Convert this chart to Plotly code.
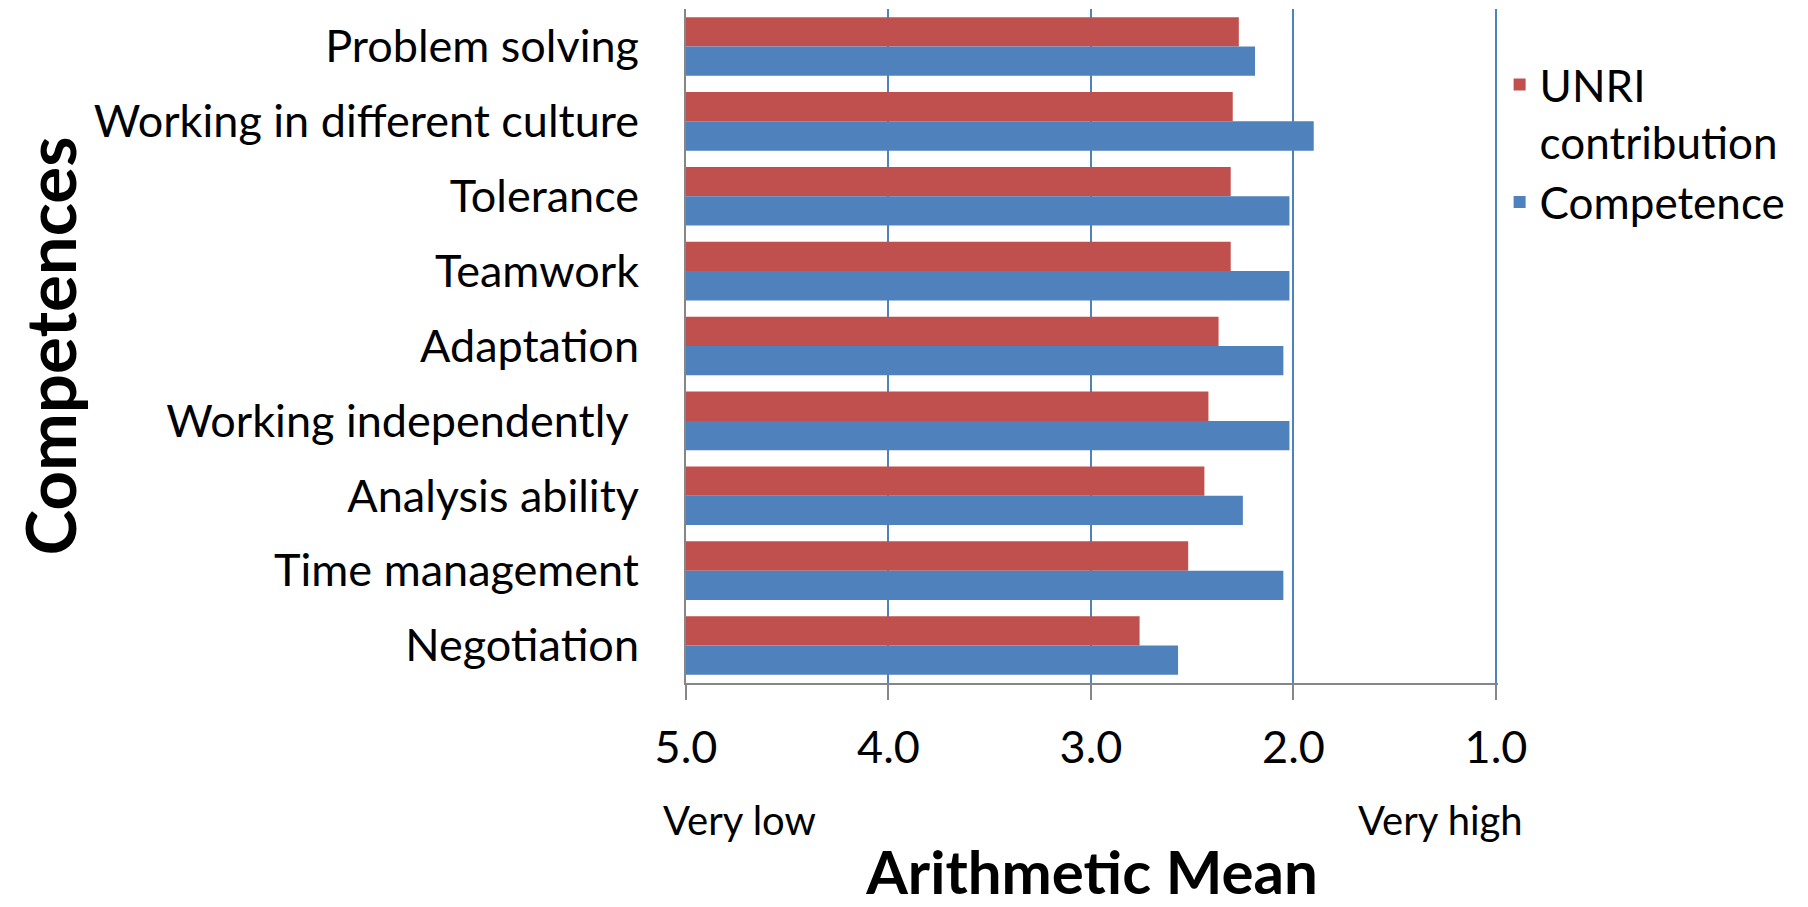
import plotly.graph_objects as go

# competences, top to bottom as in the chart
competences = [
    "Problem solving",
    "Working in different culture",
    "Tolerance",
    "Teamwork",
    "Adaptation",
    "Working independently\u00a0",
    "Analysis ability",
    "Time management",
    "Negotiation",
]
unri_contribution = [2.27, 2.30, 2.31, 2.31, 2.37, 2.42, 2.44, 2.52, 2.76]
competence = [2.19, 1.90, 2.02, 2.02, 2.05, 2.02, 2.25, 2.05, 2.57]

tick_values = [5, 4, 3, 2, 1]
tick_labels = ["5.0", "4.0", "3.0", "2.0", "1.0"]

# bars grow from the "Very low" end (5.0) towards the mean
scale_start = 5

RED = "#C0504D"
BLUE = "#4F81BD"
GREY = "#868686"
FONT = "Lato"

fig = go.Figure()
fig.add_trace(go.Bar(
    y=competences,
    x=[v - scale_start for v in unri_contribution],
    base=scale_start,
    orientation="h",
    name="UNRI<br>contribution",
    marker=dict(color=RED, line=dict(width=0)),
))
fig.add_trace(go.Bar(
    y=competences,
    x=[v - scale_start for v in competence],
    base=scale_start,
    orientation="h",
    name="Competence",
    marker=dict(color=BLUE, line=dict(width=0)),
))

# page body has an 8px margin, so the figure is 8px smaller than the window
fig.update_layout(
    width=1800,
    height=899,
    margin=dict(l=678, r=310, t=1, b=224, autoexpand=False),
    paper_bgcolor="white",
    plot_bgcolor="white",
    barmode="group",
    bargap=0.217,
    bargroupgap=0,
    font=dict(family=FONT, size=45, color="black"),
    showlegend=True,
    legend=dict(
        x=1.002, y=0.94, xanchor="left", yanchor="top",
        traceorder="normal", valign="top",
        font=dict(size=44), tracegroupgap=0,
        bgcolor="rgba(0,0,0,0)",
    ),
    xaxis=dict(
        # a little past 1.0 so plotly keeps the 1.0 gridline at the right edge
        range=[5, 0.99],
        automargin=False,
        tickvals=tick_values,
        ticktext=tick_labels,
        showgrid=True, gridcolor=BLUE, gridwidth=1.5,
        zeroline=False,
        showline=True, linecolor=GREY, linewidth=2,
        ticks="outside", ticklen=15, tickwidth=2, tickcolor=GREY,
        ticklabelstandoff=9,
        title=dict(text="Arithmetic Mean", standoff=100,
                   font=dict(size=60, weight="bold")),
    ),
    yaxis=dict(
        autorange="reversed",
        automargin=False,
        showgrid=False, zeroline=False,
        showline=True, linecolor=GREY, linewidth=2,
        ticks="", ticklabelstandoff=36,
        title=dict(text="Competences", standoff=24,
                   font=dict(size=69, weight="bold")),
    ),
)

fig.add_annotation(text="Very low", x=5, xref="x", y=-0.203, yref="paper",
                   xanchor="left", yanchor="middle", xshift=-25,
                   showarrow=False, font=dict(size=40))
fig.add_annotation(text="Very high", x=1, xref="x", y=-0.203, yref="paper",
                   xanchor="right", yanchor="middle", xshift=29,
                   showarrow=False, font=dict(size=40))

fig.write_html("out.html")
